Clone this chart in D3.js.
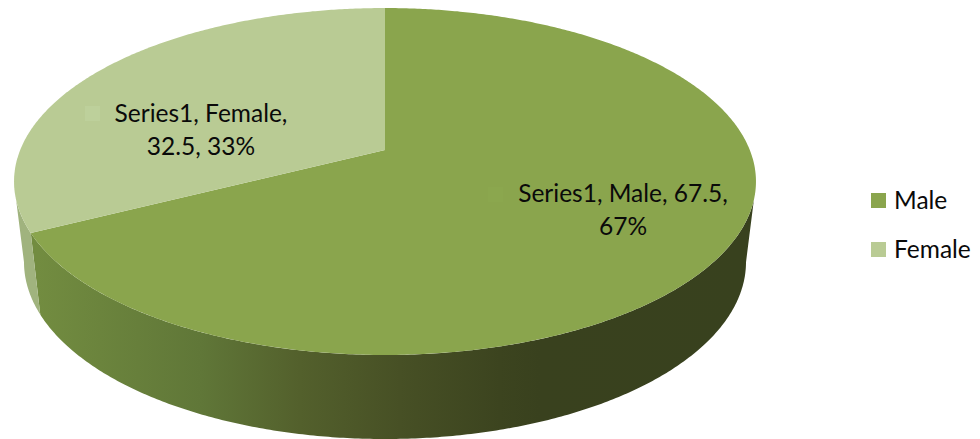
<!DOCTYPE html>
<html>
<head>
<meta charset="utf-8">
<script src="https://cdn.jsdelivr.net/npm/d3@7/dist/d3.min.js"></script>
<style>
  html, body { margin: 0; padding: 0; background: #fff; }
  svg { display: block; }
  text { font-family: Lato, "Open Sans", sans-serif; fill: #0a0a0a; }
</style>
</head>
<body>
<svg id="chart" width="980" height="439"></svg>
<script>
const seriesName = "Series1";
const categories = ["Male", "Female"];
const values = [67.5, 32.5];
const percentLabels = ["67%", "33%"];
const topColors = ["#8aa54d", "#b9cb94"];
const markerColors = ["#8ba74e", "#bdd09b"];
const femaleSideColor = "#a0b37e";
const maleSideStops = [
  [38, "#728c40"], [200, "#607738"], [300, "#53602c"],
  [400, "#475025"], [500, "#3c441f"], [540, "#39411e"], [745, "#38411e"]
];
const labelLines = [
  [`${seriesName}, ${categories[0]}, ${values[0]},`, percentLabels[0]],
  [`${seriesName}, ${categories[1]},`, `${values[1]}, ${percentLabels[1]}`]
];

const svg = d3.select("#chart");
const deg = Math.PI / 180;

// Perspective projection of a disc: theta is clockwise from the far point.
const tilt = -0.1816;
function disc(cx, halfWidth, centerY, spread) {
  return theta => {
    const u = Math.sin(theta), v = -Math.cos(theta), w = 1 + tilt * v;
    return [cx + halfWidth * u / w, (spread * v + centerY) / w];
  };
}
const topDisc = disc(385, 364.8, 150, 140.5);
const baseDisc = disc(385, 355, 229.9, 129.4);

const arcs = d3.pie().sort(null).startAngle(0).endAngle(2 * Math.PI)(values);
const line = d3.line();

function sweep(project, a, b) {
  const n = Math.ceil(Math.abs(b - a) / (0.5 * deg));
  return d3.range(n + 1).map(i => project(a + (b - a) * i / n));
}

const defs = svg.append("defs");
const grad = defs.append("linearGradient")
  .attr("id", "maleSide").attr("gradientUnits", "userSpaceOnUse")
  .attr("x1", 0).attr("x2", 980).attr("y1", 0).attr("y2", 0);
grad.selectAll("stop").data(maleSideStops).join("stop")
  .attr("offset", d => d[0] / 980)
  .attr("stop-color", d => d[1]);

// Outer wall of each slice, limited to the part that faces the viewer.
// The wall meets the upper rim a little below the rim's widest point.
const upperRim = 106.4 * deg, lowerRim = 100.5 * deg;
const splitAngle = arcs[0].endAngle;
const wallRanges = [
  [upperRim, splitAngle, lowerRim, splitAngle],
  [splitAngle, 2 * Math.PI - upperRim, splitAngle, 2 * Math.PI - lowerRim]
];
const wallFills = ["url(#maleSide)", femaleSideColor];
svg.append("g").selectAll("path").data(wallRanges).join("path")
  .attr("d", ([a, b, c, d]) => line([...sweep(topDisc, a, b), ...sweep(baseDisc, d, c)]) + "Z")
  .attr("fill", (d, i) => wallFills[i]);

// Top faces of the slices.
svg.append("g").selectAll("path").data(arcs).join("path")
  .attr("d", d => line([[385, 150], ...sweep(topDisc, d.startAngle, d.endAngle)]) + "Z")
  .attr("fill", (d, i) => topColors[i]);

// Data labels with their faint key squares.
const labelAnchors = [[623, 202], [201, 122]];
const markerSpots = [[488, 187], [85, 106]];
svg.append("g").selectAll("rect").data(markerSpots).join("rect")
  .attr("x", d => d[0]).attr("y", d => d[1])
  .attr("width", 15).attr("height", 15)
  .attr("fill", (d, i) => markerColors[i]);
const labels = svg.append("g").selectAll("text").data(labelLines).join("text")
  .attr("text-anchor", "middle").attr("font-size", 24.5);
labels.selectAll("tspan").data((d, i) => d.map(t => ({ t, i }))).join("tspan")
  .attr("x", d => labelAnchors[d.i][0])
  .attr("y", (d, j) => labelAnchors[d.i][1] + j * 33)
  .text(d => d.t);

// Legend.
const legendY = d3.scalePoint().domain(categories).range([193, 242]);
const legend = svg.append("g").selectAll("g").data(categories).join("g")
  .attr("transform", d => `translate(871,${legendY(d)})`);
legend.append("rect").attr("width", 15).attr("height", 15)
  .attr("fill", (d, i) => topColors[i]);
legend.append("text").attr("x", 23).attr("y", 15.5).attr("font-size", 24.5).text(d => d);
</script>
</body>
</html>
